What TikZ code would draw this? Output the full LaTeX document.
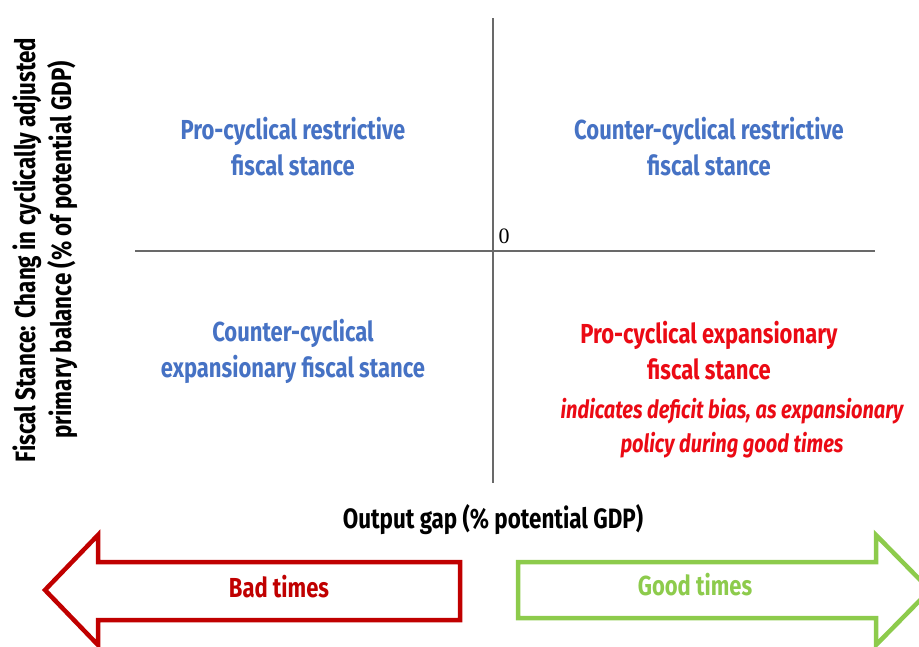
\documentclass[tikz,border=0pt]{standalone}
\usepackage{fontspec}
\setmainfont{Fira Sans}[FakeStretch=0.8]
\newfontfamily\zerofont{Liberation Serif}

\definecolor{stanceblue}{RGB}{70,114,196}
\definecolor{stancered}{RGB}{235,10,20}
\definecolor{badred}{RGB}{192,0,0}
\definecolor{goodgreen}{RGB}{141,203,76}
\definecolor{axisgray}{RGB}{105,105,105}

\begin{document}
\begin{tikzpicture}[x=1pt,y=-1pt,
		quadtext/.style={align=center,font=\bfseries\fontsize{27.5}{36}\selectfont},
		notetext/.style={align=center,font=\bfseries\itshape\fontsize{25}{34}\selectfont},
		axislabel/.style={align=center,font=\bfseries\fontsize{28}{36}\selectfont},
		bigarrow/.style={line width=4.5pt,line join=miter}]
		\useasboundingbox (0,0) rectangle (919,646);
		\clip (0,0) rectangle (919,646);
		% axes
		\coordinate (xl) at (135,251);
		\coordinate (xr) at (875,251);
		\coordinate (yt) at (493,18);
		\coordinate (yb) at (493,483);
		\draw[axisgray,line width=2pt] (xl) -- (xr);
		\draw[axisgray,line width=2pt] (yt) -- (yb);
		\node[font=\zerofont\fontsize{22}{22}\selectfont] (zero) at (504,236) {0};
		% quadrants
		\node[quadtext,stanceblue] (prorestr) at (293,147) {Pro-cyclical restrictive\\fiscal stance};
		\node[quadtext,stanceblue] (counterrestr) at (709,147) {Counter-cyclical restrictive\\fiscal stance};
		\node[quadtext,stanceblue] (counterexp) at (293,351) {Counter-cyclical\\expansionary fiscal stance};
		\node[quadtext,stancered] (proexp) at (709,351) {Pro-cyclical expansionary\\fiscal stance};
		\node[notetext,stancered] (deficit) at (732,428) {indicates deficit bias, as expansionary\\policy during good times};
		% axis labels
		\node[axislabel,rotate=90] (ylab) at (45,250) {Fiscal Stance: Chang in cyclically adjusted\\primary balance (\% of potential GDP)};
		\node[axislabel] (xlab) at (493,520) {Output gap (\% potential GDP)};
		% bad / good times arrows
		\draw[bigarrow,badred] (460,562) -- (98,562) -- (98,535) -- (45,590) -- (98,645) -- (98,620) -- (460,620) -- cycle;
		\draw[bigarrow,goodgreen] (518,562) -- (876,562) -- (876,535) -- (930,590) -- (876,645) -- (876,618) -- (518,618) -- cycle;
		\node[quadtext,badred] (bad) at (279,587) {Bad times};
		\node[quadtext,goodgreen] (good) at (695,585) {Good times};
	\end{tikzpicture}
\end{document}
